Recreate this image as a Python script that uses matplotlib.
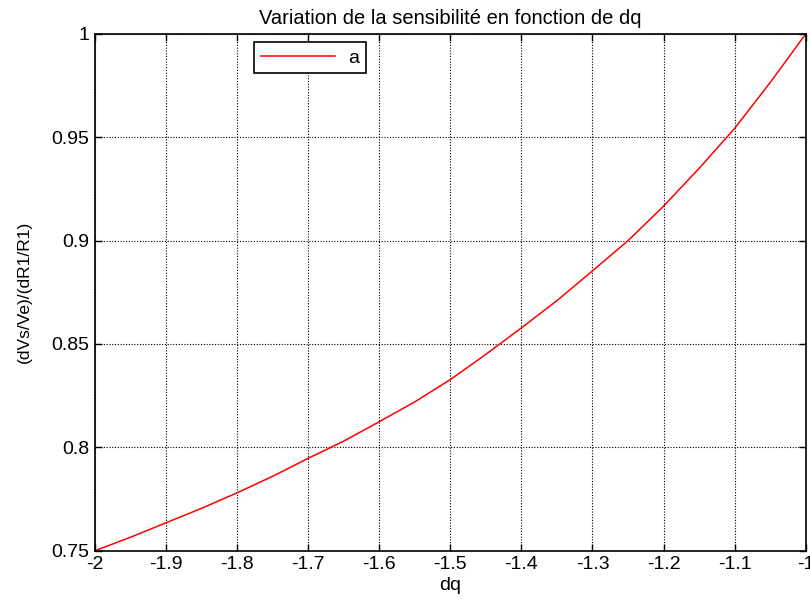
import matplotlib
matplotlib.use("Agg")
import matplotlib.pyplot as plt

# values
dq = [-2.0, -1.95, -1.9, -1.85, -1.8, -1.75, -1.7, -1.65, -1.6, -1.55, -1.5,
      -1.45, -1.4, -1.35, -1.3, -1.25, -1.2, -1.15, -1.1, -1.05, -1.0]
sens = [0.750, 0.7565, 0.7635, 0.7705, 0.778, 0.786, 0.7947, 0.803, 0.8124, 0.822, 0.8328,
        0.845, 0.8578, 0.871, 0.8854, 0.900, 0.9167, 0.935, 0.9543, 0.9765, 1.000]

xticks = [-2, -1.9, -1.8, -1.7, -1.6, -1.5, -1.4, -1.3, -1.2, -1.1, -1]
xtick_labels = ["-2", "-1.9", "-1.8", "-1.7", "-1.6", "-1.5", "-1.4", "-1.3", "-1.2", "-1.1", "-1"]
yticks = [0.75, 0.8, 0.85, 0.9, 0.95, 1.0]
ytick_labels = ["0.75", "0.8", "0.85", "0.9", "0.95", "1"]

plt.rcParams["font.family"] = ["Liberation Sans", "DejaVu Sans"]
plt.rcParams["font.size"] = 14

fig = plt.figure(figsize=(8.1, 6.07), dpi=100)
ax = fig.add_axes([0.1173, 0.0928, 0.8774, 0.8512])

ax.plot(dq, sens, color="red", linewidth=1.1, label="a")

ax.set_xlim(-2, -1)
ax.set_ylim(0.75, 1)
ax.set_xticks(xticks)
ax.set_xticklabels(xtick_labels)
ax.set_yticks(yticks)
ax.set_yticklabels(ytick_labels)
ax.tick_params(direction="in", length=5, width=1, top=True, right=True,
               colors="black", labelsize=14, pad=4)
ax.grid(True, color="black", linestyle=(0, (1, 1.5)), linewidth=0.8)
for s in ax.spines.values():
    s.set_linewidth(1.2)

ax.set_title("Variation de la sensibilité en fonction de dq", fontsize=14.5, pad=7)
ax.set_xlabel("dq", fontsize=14, labelpad=3)
ax.set_ylabel("(dVs/Ve)/(dR1/R1)", fontsize=12.5, labelpad=14)

leg = ax.legend(loc="upper left", bbox_to_anchor=(0.2237, 0.984), borderaxespad=0,
                fancybox=False, framealpha=1, edgecolor="black", handlelength=3.8,
                borderpad=0.35, handletextpad=0.7, fontsize=14)
leg.get_frame().set_linewidth(1.2)

fig.savefig("out.png", dpi=100)
